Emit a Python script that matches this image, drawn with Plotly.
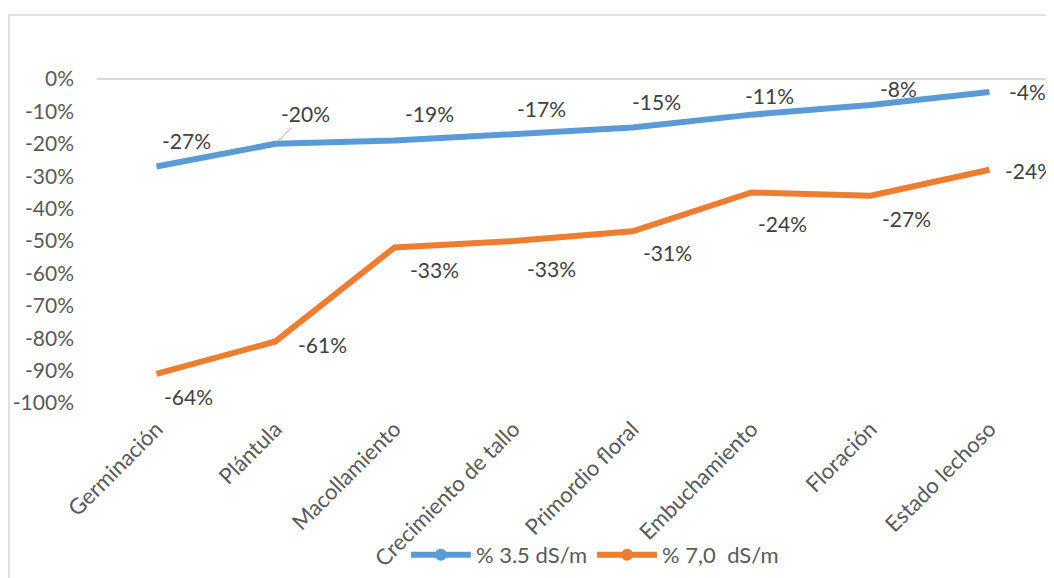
import plotly.graph_objects as go

categories = ["Germinación", "Plántula", "Macollamiento", "Crecimiento de tallo",
              "Primordio floral", "Embuchamiento", "Floración", "Estado lechoso"]
serie_35 = [-0.27, -0.20, -0.19, -0.17, -0.15, -0.11, -0.08, -0.04]
serie_70 = [-0.91, -0.81, -0.52, -0.50, -0.47, -0.35, -0.36, -0.28]
labels_35 = ["-27%", "-20%", "-19%", "-17%", "-15%", "-11%", "-8%", "-4%"]
labels_70 = ["-64%", "-61%", "-33%", "-33%", "-31%", "-24%", "-27%", "-24%"]
ytick_vals = [0, -0.1, -0.2, -0.3, -0.4, -0.5, -0.6, -0.7, -0.8, -0.9, -1.0]
ytick_text = ["0%", "-10%", "-20%", "-30%", "-40%", "-50%", "-60%", "-70%", "-80%", "-90%", "-100%"]
name_35 = "% 3.5 dS/m"
name_70 = "% 7,0  dS/m"

# label offsets (style only)
shift_35 = [(30, 26), (30, 30), (35, 27), (28, 26), (24, 26), (18, 19), (28, 16), (38, 0)]
shift_70 = [(32, -23), (47, -3), (40, -22), (38, -27), (35, -21), (31, -31), (36, -23), (40, -1)]

BLUE = "#5B9BD5"
ORANGE = "#ED7D31"
FONT = "Lato"
FS = 21

fig = go.Figure()
fig.add_trace(go.Scatter(x=categories, y=serie_35, mode="lines",
                         line=dict(color=BLUE, width=6), showlegend=False, cliponaxis=False))
fig.add_trace(go.Scatter(x=categories, y=serie_70, mode="lines",
                         line=dict(color=ORANGE, width=6), showlegend=False, cliponaxis=False))
fig.add_trace(go.Scatter(x=[None], y=[None], mode="lines+markers", name=name_35,
                         line=dict(color=BLUE, width=6), marker=dict(size=12, color=BLUE)))
fig.add_trace(go.Scatter(x=[None], y=[None], mode="lines+markers", name=name_70,
                         line=dict(color=ORANGE, width=6), marker=dict(size=12, color=ORANGE)))

annotations = []
for i, (c, v, t) in enumerate(zip(categories, serie_35, labels_35)):
    dx, dy = shift_35[i]
    if i == 1:
        annotations.append(dict(x=c, y=v, text=t, showarrow=True, arrowhead=0,
                                arrowcolor="#A6A6A6", arrowwidth=1, ax=dx, ay=-dy,
                                font=dict(family=FONT, size=FS, color="#404040")))
    else:
        annotations.append(dict(x=c, y=v, text=t, showarrow=False, xshift=dx, yshift=dy,
                                font=dict(family=FONT, size=FS, color="#404040")))
for i, (c, v, t) in enumerate(zip(categories, serie_70, labels_70)):
    dx, dy = shift_70[i]
    annotations.append(dict(x=c, y=v, text=t, showarrow=False, xshift=dx, yshift=dy,
                            font=dict(family=FONT, size=FS, color="#404040")))

# page body has an 8px default margin: figure sized/offset to fill the 1054x578 window
fig.update_layout(
    width=1046, height=570,
    margin=dict(l=89, r=5, t=71, b=175, autoexpand=False),
    paper_bgcolor="white", plot_bgcolor="white",
    font=dict(family=FONT, size=FS, color="#595959"),
    annotations=annotations,
    showlegend=True,
    legend=dict(orientation="h", x=0.523, xanchor="center", y=-0.469, yanchor="middle",
                font=dict(family=FONT, size=22, color="#595959"), itemwidth=60,
                tracegroupgap=0, bgcolor="rgba(0,0,0,0)"),
    shapes=[dict(type="rect", xref="paper", yref="paper", x0=-0.0925, x1=1.2,
                 y0=-1.0, y1=1.1975, line=dict(color="#D9D9D9", width=1.5))],
)
fig.update_xaxes(type="category", range=[-0.5, 7.5], tickangle=-45, showgrid=False,
                 showline=False, ticks="", automargin=False, ticklabelstandoff=8,
                 tickfont=dict(family=FONT, size=22, color="#595959"))
fig.update_yaxes(range=[-1.0, 0.0], tickvals=ytick_vals, ticktext=ytick_text, showgrid=False,
                 zeroline=True, zerolinecolor="#D9D9D9", zerolinewidth=1.5, showline=False,
                 ticks="", automargin=False, ticklabelstandoff=22,
                 tickfont=dict(family=FONT, size=21, color="#595959"))

fig.write_html("out.html")
